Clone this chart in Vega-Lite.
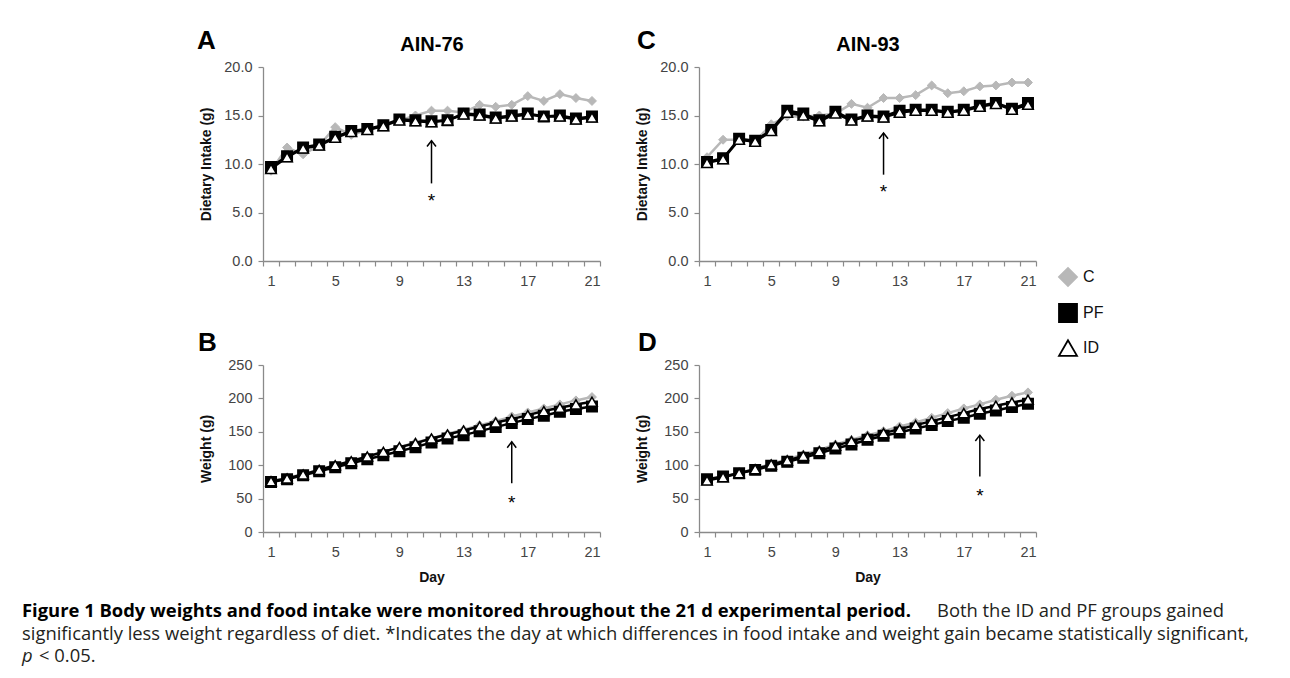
{
"$schema":"https://vega.github.io/schema/vega-lite/v6.json",
"autosize":{"type":"none"},
"padding":{"left":263,"top":67,"right":1027,"bottom":611},
"bounds":"flush",
"columns":2,
"spacing":{"row":104,"column":99},
"datasets":{
"i76":[
{"day":1,"s":"C","v":9.3},{"day":2,"s":"C","v":11.7},{"day":3,"s":"C","v":11.0},{"day":4,"s":"C","v":11.9},{"day":5,"s":"C","v":13.8},{"day":6,"s":"C","v":13.0},{"day":7,"s":"C","v":13.5},{"day":8,"s":"C","v":14.0},{"day":9,"s":"C","v":14.5},{"day":10,"s":"C","v":15.0},{"day":11,"s":"C","v":15.5},{"day":12,"s":"C","v":15.5},{"day":13,"s":"C","v":15.3},{"day":14,"s":"C","v":16.1},{"day":15,"s":"C","v":15.9},{"day":16,"s":"C","v":16.1},{"day":17,"s":"C","v":17.0},{"day":18,"s":"C","v":16.5},{"day":19,"s":"C","v":17.2},{"day":20,"s":"C","v":16.8},{"day":21,"s":"C","v":16.5},
{"day":1,"s":"PF","v":9.7},{"day":2,"s":"PF","v":10.8},{"day":3,"s":"PF","v":11.7},{"day":4,"s":"PF","v":12.0},{"day":5,"s":"PF","v":12.8},{"day":6,"s":"PF","v":13.4},{"day":7,"s":"PF","v":13.6},{"day":8,"s":"PF","v":14.0},{"day":9,"s":"PF","v":14.6},{"day":10,"s":"PF","v":14.5},{"day":11,"s":"PF","v":14.4},{"day":12,"s":"PF","v":14.5},{"day":13,"s":"PF","v":15.2},{"day":14,"s":"PF","v":15.1},{"day":15,"s":"PF","v":14.8},{"day":16,"s":"PF","v":15.0},{"day":17,"s":"PF","v":15.2},{"day":18,"s":"PF","v":14.9},{"day":19,"s":"PF","v":15.0},{"day":20,"s":"PF","v":14.7},{"day":21,"s":"PF","v":14.9},
{"day":1,"s":"ID","v":9.5},{"day":2,"s":"ID","v":10.7},{"day":3,"s":"ID","v":11.6},{"day":4,"s":"ID","v":11.9},{"day":5,"s":"ID","v":12.7},{"day":6,"s":"ID","v":13.3},{"day":7,"s":"ID","v":13.5},{"day":8,"s":"ID","v":13.9},{"day":9,"s":"ID","v":14.5},{"day":10,"s":"ID","v":14.4},{"day":11,"s":"ID","v":14.3},{"day":12,"s":"ID","v":14.5},{"day":13,"s":"ID","v":15.1},{"day":14,"s":"ID","v":15.0},{"day":15,"s":"ID","v":14.7},{"day":16,"s":"ID","v":14.9},{"day":17,"s":"ID","v":15.1},{"day":18,"s":"ID","v":14.9},{"day":19,"s":"ID","v":14.9},{"day":20,"s":"ID","v":14.6},{"day":21,"s":"ID","v":14.8}
],
"i93":[
{"day":1,"s":"C","v":10.7},{"day":2,"s":"C","v":12.5},{"day":3,"s":"C","v":12.5},{"day":4,"s":"C","v":12.3},{"day":5,"s":"C","v":14.1},{"day":6,"s":"C","v":14.9},{"day":7,"s":"C","v":14.9},{"day":8,"s":"C","v":15.0},{"day":9,"s":"C","v":15.2},{"day":10,"s":"C","v":16.2},{"day":11,"s":"C","v":15.8},{"day":12,"s":"C","v":16.8},{"day":13,"s":"C","v":16.8},{"day":14,"s":"C","v":17.1},{"day":15,"s":"C","v":18.1},{"day":16,"s":"C","v":17.3},{"day":17,"s":"C","v":17.5},{"day":18,"s":"C","v":18.0},{"day":19,"s":"C","v":18.1},{"day":20,"s":"C","v":18.4},{"day":21,"s":"C","v":18.4},
{"day":1,"s":"PF","v":10.2},{"day":2,"s":"PF","v":10.6},{"day":3,"s":"PF","v":12.6},{"day":4,"s":"PF","v":12.4},{"day":5,"s":"PF","v":13.5},{"day":6,"s":"PF","v":15.5},{"day":7,"s":"PF","v":15.2},{"day":8,"s":"PF","v":14.5},{"day":9,"s":"PF","v":15.4},{"day":10,"s":"PF","v":14.6},{"day":11,"s":"PF","v":15.0},{"day":12,"s":"PF","v":14.9},{"day":13,"s":"PF","v":15.5},{"day":14,"s":"PF","v":15.6},{"day":15,"s":"PF","v":15.6},{"day":16,"s":"PF","v":15.4},{"day":17,"s":"PF","v":15.6},{"day":18,"s":"PF","v":16.0},{"day":19,"s":"PF","v":16.3},{"day":20,"s":"PF","v":15.7},{"day":21,"s":"PF","v":16.3},
{"day":1,"s":"ID","v":10.1},{"day":2,"s":"ID","v":10.5},{"day":3,"s":"ID","v":12.5},{"day":4,"s":"ID","v":12.3},{"day":5,"s":"ID","v":13.4},{"day":6,"s":"ID","v":15.3},{"day":7,"s":"ID","v":15.0},{"day":8,"s":"ID","v":14.4},{"day":9,"s":"ID","v":15.2},{"day":10,"s":"ID","v":14.5},{"day":11,"s":"ID","v":14.9},{"day":12,"s":"ID","v":14.8},{"day":13,"s":"ID","v":15.3},{"day":14,"s":"ID","v":15.5},{"day":15,"s":"ID","v":15.5},{"day":16,"s":"ID","v":15.3},{"day":17,"s":"ID","v":15.5},{"day":18,"s":"ID","v":15.9},{"day":19,"s":"ID","v":16.2},{"day":20,"s":"ID","v":15.6},{"day":21,"s":"ID","v":16.1}
],
"w76":[
{"day":1,"s":"C","v":76},{"day":2,"s":"C","v":81},{"day":3,"s":"C","v":87},{"day":4,"s":"C","v":93},{"day":5,"s":"C","v":100},{"day":6,"s":"C","v":106},{"day":7,"s":"C","v":113},{"day":8,"s":"C","v":120},{"day":9,"s":"C","v":127},{"day":10,"s":"C","v":134},{"day":11,"s":"C","v":140},{"day":12,"s":"C","v":147},{"day":13,"s":"C","v":153},{"day":14,"s":"C","v":160},{"day":15,"s":"C","v":166},{"day":16,"s":"C","v":173},{"day":17,"s":"C","v":179},{"day":18,"s":"C","v":185},{"day":19,"s":"C","v":191},{"day":20,"s":"C","v":197},{"day":21,"s":"C","v":202},
{"day":1,"s":"PF","v":75},{"day":2,"s":"PF","v":79},{"day":3,"s":"PF","v":85},{"day":4,"s":"PF","v":91},{"day":5,"s":"PF","v":97},{"day":6,"s":"PF","v":103},{"day":7,"s":"PF","v":109},{"day":8,"s":"PF","v":115},{"day":9,"s":"PF","v":121},{"day":10,"s":"PF","v":127},{"day":11,"s":"PF","v":134},{"day":12,"s":"PF","v":140},{"day":13,"s":"PF","v":145},{"day":14,"s":"PF","v":151},{"day":15,"s":"PF","v":157},{"day":16,"s":"PF","v":163},{"day":17,"s":"PF","v":169},{"day":18,"s":"PF","v":174},{"day":19,"s":"PF","v":180},{"day":20,"s":"PF","v":184},{"day":21,"s":"PF","v":188},
{"day":1,"s":"ID","v":76},{"day":2,"s":"ID","v":80},{"day":3,"s":"ID","v":86},{"day":4,"s":"ID","v":93},{"day":5,"s":"ID","v":100},{"day":6,"s":"ID","v":106},{"day":7,"s":"ID","v":113},{"day":8,"s":"ID","v":120},{"day":9,"s":"ID","v":127},{"day":10,"s":"ID","v":133},{"day":11,"s":"ID","v":140},{"day":12,"s":"ID","v":146},{"day":13,"s":"ID","v":152},{"day":14,"s":"ID","v":158},{"day":15,"s":"ID","v":164},{"day":16,"s":"ID","v":169},{"day":17,"s":"ID","v":175},{"day":18,"s":"ID","v":181},{"day":19,"s":"ID","v":186},{"day":20,"s":"ID","v":191},{"day":21,"s":"ID","v":195}
],
"w93":[
{"day":1,"s":"C","v":78},{"day":2,"s":"C","v":83},{"day":3,"s":"C","v":88},{"day":4,"s":"C","v":95},{"day":5,"s":"C","v":102},{"day":6,"s":"C","v":109},{"day":7,"s":"C","v":116},{"day":8,"s":"C","v":123},{"day":9,"s":"C","v":131},{"day":10,"s":"C","v":138},{"day":11,"s":"C","v":145},{"day":12,"s":"C","v":151},{"day":13,"s":"C","v":158},{"day":14,"s":"C","v":164},{"day":15,"s":"C","v":171},{"day":16,"s":"C","v":178},{"day":17,"s":"C","v":185},{"day":18,"s":"C","v":191},{"day":19,"s":"C","v":198},{"day":20,"s":"C","v":204},{"day":21,"s":"C","v":209},
{"day":1,"s":"PF","v":79},{"day":2,"s":"PF","v":83},{"day":3,"s":"PF","v":88},{"day":4,"s":"PF","v":93},{"day":5,"s":"PF","v":99},{"day":6,"s":"PF","v":105},{"day":7,"s":"PF","v":111},{"day":8,"s":"PF","v":118},{"day":9,"s":"PF","v":125},{"day":10,"s":"PF","v":131},{"day":11,"s":"PF","v":138},{"day":12,"s":"PF","v":144},{"day":13,"s":"PF","v":149},{"day":14,"s":"PF","v":155},{"day":15,"s":"PF","v":160},{"day":16,"s":"PF","v":166},{"day":17,"s":"PF","v":171},{"day":18,"s":"PF","v":177},{"day":19,"s":"PF","v":182},{"day":20,"s":"PF","v":187},{"day":21,"s":"PF","v":192},
{"day":1,"s":"ID","v":77},{"day":2,"s":"ID","v":82},{"day":3,"s":"ID","v":88},{"day":4,"s":"ID","v":94},{"day":5,"s":"ID","v":101},{"day":6,"s":"ID","v":107},{"day":7,"s":"ID","v":114},{"day":8,"s":"ID","v":121},{"day":9,"s":"ID","v":129},{"day":10,"s":"ID","v":136},{"day":11,"s":"ID","v":142},{"day":12,"s":"ID","v":148},{"day":13,"s":"ID","v":154},{"day":14,"s":"ID","v":160},{"day":15,"s":"ID","v":166},{"day":16,"s":"ID","v":172},{"day":17,"s":"ID","v":178},{"day":18,"s":"ID","v":184},{"day":19,"s":"ID","v":189},{"day":20,"s":"ID","v":194},{"day":21,"s":"ID","v":198}
]
},
"concat":[
{
"width":337,"height":194,
"data":{"name":"i76"},
"title":{"text":"A","anchor":"start","frame":"group","dx":-66,"dy":41,"offset":0,"fontSize":26,"font":"Liberation Sans","fontWeight":"bold","color":"black","baseline":"alphabetic"},
"resolve":{"axis":{"x":"independent"}},
"encoding":{
"x":{"field":"day","type":"ordinal","scale":{"type":"band","paddingInner":0,"paddingOuter":0,"domain":[1,2,3,4,5,6,7,8,9,10,11,12,13,14,15,16,17,18,19,20,21]},"axis":null},
"y":{"field":"v","type":"quantitative","scale":{"domain":[0,20]},"axis":{"title":"Dietary Intake (g)","values":[0,5,10,15,20],"format":".1f","titlePadding":10}}
},
"layer":[
{"transform":[{"filter":"datum.s==='C'"}],"mark":{"type":"line","stroke":"#b8b8b8","strokeWidth":2.5},
"encoding":{"x":{"field":"day","type":"ordinal","scale":{"type":"band","paddingInner":0,"paddingOuter":0,"domain":[1,2,3,4,5,6,7,8,9,10,11,12,13,14,15,16,17,18,19,20,21]},"axis":{"title":null,"labelExpr":"(datum.value-1)%4===0 ? datum.label : ''","labelAngle":0,"tickBand":"extent","labelPadding":8}}}},
{"transform":[{"filter":"datum.s==='C'"}],"mark":{"type":"point","filled":true,"opacity":1,"size":80,"strokeWidth":1},
"encoding":{"shape":{"field":"s","type":"nominal","scale":{"domain":["C","PF","ID"],"range":["diamond","square","triangle-up"]},"legend":{"title":null}},"fill":{"field":"s","type":"nominal","scale":{"domain":["C","PF","ID"],"range":["#b8b8b8","black","white"]},"legend":{"title":null}},"stroke":{"field":"s","type":"nominal","scale":{"domain":["C","PF","ID"],"range":["#b8b8b8","black","black"]},"legend":{"title":null}}}},
{"transform":[{"filter":"datum.s!=='C'"}],"mark":{"type":"line","stroke":"black","strokeWidth":2.5},"encoding":{"detail":{"field":"s"}}},
{"transform":[{"filter":"datum.s!=='C'"}],"mark":{"type":"point","filled":true,"opacity":1,"size":110,"strokeWidth":1.5},
"encoding":{"shape":{"field":"s","type":"nominal","scale":{"domain":["C","PF","ID"],"range":["diamond","square","triangle-up"]},"legend":{"title":null}},"fill":{"field":"s","type":"nominal","scale":{"domain":["C","PF","ID"],"range":["#b8b8b8","black","white"]},"legend":{"title":null}},"stroke":{"field":"s","type":"nominal","scale":{"domain":["C","PF","ID"],"range":["#b8b8b8","black","black"]},"legend":{"title":null}}}},
{"data":{"values":[{"day":11,"v":8.0,"v2":12.4}]},"mark":{"type":"rule","color":"black","strokeWidth":1.5},"encoding":{"y2":{"field":"v2"}}},
{"data":{"values":[{"day":11,"v":12.4}]},"mark":{"type":"point","shape":"M-1,1.3L0,0L1,1.3","size":81,"filled":false,"opacity":1,"stroke":"black","strokeWidth":1.5}},
{"data":{"values":[{"day":11,"v":7.1,"t":"*"}]},"mark":{"type":"text","font":"Liberation Sans","fontSize":19,"baseline":"top","color":"black"},
"encoding":{"text":{"field":"t"},"x":{"field":"day","type":"ordinal","scale":{"type":"band","paddingInner":0,"paddingOuter":0,"domain":[1,2,3,4,5,6,7,8,9,10,11,12,13,14,15,16,17,18,19,20,21]},"axis":{"orient":"top","title":"AIN-76","labels":false,"ticks":false,"domain":false,"titlePadding":13,"titleFontSize":20,"titleColor":"black"}}}}
]
},
{
"width":337,"height":194,
"data":{"name":"i93"},
"title":{"text":"C","anchor":"start","frame":"group","dx":-62,"dy":41,"offset":0,"fontSize":26,"font":"Liberation Sans","fontWeight":"bold","color":"black","baseline":"alphabetic"},
"resolve":{"axis":{"x":"independent"}},
"encoding":{
"x":{"field":"day","type":"ordinal","scale":{"type":"band","paddingInner":0,"paddingOuter":0,"domain":[1,2,3,4,5,6,7,8,9,10,11,12,13,14,15,16,17,18,19,20,21]},"axis":null},
"y":{"field":"v","type":"quantitative","scale":{"domain":[0,20]},"axis":{"title":"Dietary Intake (g)","values":[0,5,10,15,20],"format":".1f","titlePadding":10}}
},
"layer":[
{"transform":[{"filter":"datum.s==='C'"}],"mark":{"type":"line","stroke":"#b8b8b8","strokeWidth":2.5},
"encoding":{"x":{"field":"day","type":"ordinal","scale":{"type":"band","paddingInner":0,"paddingOuter":0,"domain":[1,2,3,4,5,6,7,8,9,10,11,12,13,14,15,16,17,18,19,20,21]},"axis":{"title":null,"labelExpr":"(datum.value-1)%4===0 ? datum.label : ''","labelAngle":0,"tickBand":"extent","labelPadding":8}}}},
{"transform":[{"filter":"datum.s==='C'"}],"mark":{"type":"point","filled":true,"opacity":1,"size":80,"strokeWidth":1},
"encoding":{"shape":{"field":"s","type":"nominal","scale":{"domain":["C","PF","ID"],"range":["diamond","square","triangle-up"]},"legend":{"title":null}},"fill":{"field":"s","type":"nominal","scale":{"domain":["C","PF","ID"],"range":["#b8b8b8","black","white"]},"legend":{"title":null}},"stroke":{"field":"s","type":"nominal","scale":{"domain":["C","PF","ID"],"range":["#b8b8b8","black","black"]},"legend":{"title":null}}}},
{"transform":[{"filter":"datum.s!=='C'"}],"mark":{"type":"line","stroke":"black","strokeWidth":2.5},"encoding":{"detail":{"field":"s"}}},
{"transform":[{"filter":"datum.s!=='C'"}],"mark":{"type":"point","filled":true,"opacity":1,"size":110,"strokeWidth":1.5},
"encoding":{"shape":{"field":"s","type":"nominal","scale":{"domain":["C","PF","ID"],"range":["diamond","square","triangle-up"]},"legend":{"title":null}},"fill":{"field":"s","type":"nominal","scale":{"domain":["C","PF","ID"],"range":["#b8b8b8","black","white"]},"legend":{"title":null}},"stroke":{"field":"s","type":"nominal","scale":{"domain":["C","PF","ID"],"range":["#b8b8b8","black","black"]},"legend":{"title":null}}}},
{"data":{"values":[{"day":12,"v":8.9,"v2":13.2}]},"mark":{"type":"rule","color":"black","strokeWidth":1.5},"encoding":{"y2":{"field":"v2"}}},
{"data":{"values":[{"day":12,"v":13.2}]},"mark":{"type":"point","shape":"M-1,1.3L0,0L1,1.3","size":81,"filled":false,"opacity":1,"stroke":"black","strokeWidth":1.5}},
{"data":{"values":[{"day":12,"v":8.0,"t":"*"}]},"mark":{"type":"text","font":"Liberation Sans","fontSize":19,"baseline":"top","color":"black"},
"encoding":{"text":{"field":"t"},"x":{"field":"day","type":"ordinal","scale":{"type":"band","paddingInner":0,"paddingOuter":0,"domain":[1,2,3,4,5,6,7,8,9,10,11,12,13,14,15,16,17,18,19,20,21]},"axis":{"orient":"top","title":"AIN-93","labels":false,"ticks":false,"domain":false,"titlePadding":13,"titleFontSize":20,"titleColor":"black"}}}}
]
},
{
"width":337,"height":167,
"data":{"name":"w76"},
"title":{"text":"B","anchor":"start","frame":"group","dx":-65,"dy":26,"offset":6,"fontSize":26,"font":"Liberation Sans","fontWeight":"bold","color":"black","baseline":"alphabetic"},
"encoding":{
"x":{"field":"day","type":"ordinal","scale":{"type":"band","paddingInner":0,"paddingOuter":0,"domain":[1,2,3,4,5,6,7,8,9,10,11,12,13,14,15,16,17,18,19,20,21]},"axis":{"title":"Day","labelExpr":"(datum.value-1)%4===0 ? datum.label : ''","labelAngle":0,"tickBand":"extent","labelPadding":8,"titlePadding":12}},
"y":{"field":"v","type":"quantitative","scale":{"domain":[0,250]},"axis":{"title":"Weight (g)","values":[0,50,100,150,200,250],"titlePadding":14}}
},
"layer":[
{"transform":[{"filter":"datum.s==='C'"}],"mark":{"type":"line","stroke":"#b8b8b8","strokeWidth":2.5},"encoding":{}},
{"transform":[{"filter":"datum.s==='C'"}],"mark":{"type":"point","filled":true,"opacity":1,"size":80,"strokeWidth":1},
"encoding":{"shape":{"field":"s","type":"nominal","scale":{"domain":["C","PF","ID"],"range":["diamond","square","triangle-up"]},"legend":{"title":null}},"fill":{"field":"s","type":"nominal","scale":{"domain":["C","PF","ID"],"range":["#b8b8b8","black","white"]},"legend":{"title":null}},"stroke":{"field":"s","type":"nominal","scale":{"domain":["C","PF","ID"],"range":["#b8b8b8","black","black"]},"legend":{"title":null}}}},
{"transform":[{"filter":"datum.s!=='C'"}],"mark":{"type":"line","stroke":"black","strokeWidth":2.5},"encoding":{"detail":{"field":"s"}}},
{"transform":[{"filter":"datum.s!=='C'"}],"mark":{"type":"point","filled":true,"opacity":1,"size":110,"strokeWidth":1.5},
"encoding":{"shape":{"field":"s","type":"nominal","scale":{"domain":["C","PF","ID"],"range":["diamond","square","triangle-up"]},"legend":{"title":null}},"fill":{"field":"s","type":"nominal","scale":{"domain":["C","PF","ID"],"range":["#b8b8b8","black","white"]},"legend":{"title":null}},"stroke":{"field":"s","type":"nominal","scale":{"domain":["C","PF","ID"],"range":["#b8b8b8","black","black"]},"legend":{"title":null}}}},
{"data":{"values":[{"day":16,"v":73,"v2":135}]},"mark":{"type":"rule","color":"black","strokeWidth":1.5},"encoding":{"y2":{"field":"v2"}}},
{"data":{"values":[{"day":16,"v":135}]},"mark":{"type":"point","shape":"M-1,1.3L0,0L1,1.3","size":81,"filled":false,"opacity":1,"stroke":"black","strokeWidth":1.5}},
{"data":{"values":[{"day":16,"v":57,"t":"*"}]},"mark":{"type":"text","font":"Liberation Sans","fontSize":19,"baseline":"top","color":"black"},"encoding":{"text":{"field":"t"}}}
]
},
{
"width":337,"height":167,
"data":{"name":"w93"},
"title":{"text":"D","anchor":"start","frame":"group","dx":-61,"dy":26,"offset":6,"fontSize":26,"font":"Liberation Sans","fontWeight":"bold","color":"black","baseline":"alphabetic"},
"encoding":{
"x":{"field":"day","type":"ordinal","scale":{"type":"band","paddingInner":0,"paddingOuter":0,"domain":[1,2,3,4,5,6,7,8,9,10,11,12,13,14,15,16,17,18,19,20,21]},"axis":{"title":"Day","labelExpr":"(datum.value-1)%4===0 ? datum.label : ''","labelAngle":0,"tickBand":"extent","labelPadding":8,"titlePadding":12}},
"y":{"field":"v","type":"quantitative","scale":{"domain":[0,250]},"axis":{"title":"Weight (g)","values":[0,50,100,150,200,250],"titlePadding":14}}
},
"layer":[
{"transform":[{"filter":"datum.s==='C'"}],"mark":{"type":"line","stroke":"#b8b8b8","strokeWidth":2.5},"encoding":{}},
{"transform":[{"filter":"datum.s==='C'"}],"mark":{"type":"point","filled":true,"opacity":1,"size":80,"strokeWidth":1},
"encoding":{"shape":{"field":"s","type":"nominal","scale":{"domain":["C","PF","ID"],"range":["diamond","square","triangle-up"]},"legend":{"title":null}},"fill":{"field":"s","type":"nominal","scale":{"domain":["C","PF","ID"],"range":["#b8b8b8","black","white"]},"legend":{"title":null}},"stroke":{"field":"s","type":"nominal","scale":{"domain":["C","PF","ID"],"range":["#b8b8b8","black","black"]},"legend":{"title":null}}}},
{"transform":[{"filter":"datum.s!=='C'"}],"mark":{"type":"line","stroke":"black","strokeWidth":2.5},"encoding":{"detail":{"field":"s"}}},
{"transform":[{"filter":"datum.s!=='C'"}],"mark":{"type":"point","filled":true,"opacity":1,"size":110,"strokeWidth":1.5},
"encoding":{"shape":{"field":"s","type":"nominal","scale":{"domain":["C","PF","ID"],"range":["diamond","square","triangle-up"]},"legend":{"title":null}},"fill":{"field":"s","type":"nominal","scale":{"domain":["C","PF","ID"],"range":["#b8b8b8","black","white"]},"legend":{"title":null}},"stroke":{"field":"s","type":"nominal","scale":{"domain":["C","PF","ID"],"range":["#b8b8b8","black","black"]},"legend":{"title":null}}}},
{"data":{"values":[{"day":18,"v":83,"v2":145}]},"mark":{"type":"rule","color":"black","strokeWidth":1.5},"encoding":{"y2":{"field":"v2"}}},
{"data":{"values":[{"day":18,"v":145}]},"mark":{"type":"point","shape":"M-1,1.3L0,0L1,1.3","size":81,"filled":false,"opacity":1,"stroke":"black","strokeWidth":1.5}},
{"data":{"values":[{"day":18,"v":67,"t":"*"}]},"mark":{"type":"text","font":"Liberation Sans","fontSize":19,"baseline":"top","color":"black"},"encoding":{"text":{"field":"t"}}}
]
},
{
"width":337,"height":45,
"layer":[
{"data":{"values":[{"line":1,"t":"Figure 1 Body weights and food intake were monitored throughout the 21 d experimental period."}]},
"mark":{"type":"text","align":"left","baseline":"alphabetic","x":0,"dx":-241,"dy":-19,"font":"Open Sans","fontSize":18.4,"fontWeight":"bold","color":"black"},
"encoding":{"y":{"field":"line","type":"ordinal","scale":{"type":"point","domain":[1,2,3],"padding":0},"axis":null},"text":{"field":"t"}}},
{"data":{"values":[{"line":1,"t":"Both the ID and PF groups gained"}]},
"mark":{"type":"text","align":"left","baseline":"alphabetic","x":0,"dx":674,"dy":-19,"font":"Open Sans","fontSize":18.4,"color":"#231f20"},
"encoding":{"y":{"field":"line","type":"ordinal","scale":{"type":"point","domain":[1,2,3],"padding":0},"axis":null},"text":{"field":"t"}}},
{"data":{"values":[{"line":2,"t":"significantly less weight regardless of diet. *Indicates the day at which differences in food intake and weight gain became statistically significant,"}]},
"mark":{"type":"text","align":"left","baseline":"alphabetic","x":0,"dx":-241,"dy":-19,"font":"Open Sans","fontSize":18.4,"color":"#231f20"},
"encoding":{"y":{"field":"line","type":"ordinal","scale":{"type":"point","domain":[1,2,3],"padding":0},"axis":null},"text":{"field":"t"}}},
{"data":{"values":[{"line":3,"t":"p"}]},
"mark":{"type":"text","align":"left","baseline":"alphabetic","x":0,"dx":-241,"dy":-19,"font":"Open Sans","fontSize":18.4,"fontStyle":"italic","color":"#231f20"},
"encoding":{"y":{"field":"line","type":"ordinal","scale":{"type":"point","domain":[1,2,3],"padding":0},"axis":null},"text":{"field":"t"}}},
{"data":{"values":[{"line":3,"t":"< 0.05."}]},
"mark":{"type":"text","align":"left","baseline":"alphabetic","x":0,"dx":-224,"dy":-19,"font":"Open Sans","fontSize":18.4,"color":"#231f20"},
"encoding":{"y":{"field":"line","type":"ordinal","scale":{"type":"point","domain":[1,2,3],"padding":0},"axis":null},"text":{"field":"t"}}}
]
}
],
"config":{
"view":{"stroke":null},
"axis":{"domainColor":"#8a8a8a","tickColor":"#8a8a8a","domainWidth":1.3,"tickWidth":1.2,"labelColor":"#444444","labelFont":"Liberation Sans","labelFontSize":14.5,"titleFont":"Liberation Sans","titleFontSize":14,"titleFontWeight":"bold","titleColor":"#111111","tickSize":5,"labelPadding":6,"grid":false},
"legend":{"orient":"none","legendX":795,"legendY":200,"symbolSize":324,"symbolStrokeWidth":1.8,"labelFontSize":16,"labelFont":"Liberation Sans","labelColor":"#111111","rowPadding":10,"labelOffset":5}
}
}
